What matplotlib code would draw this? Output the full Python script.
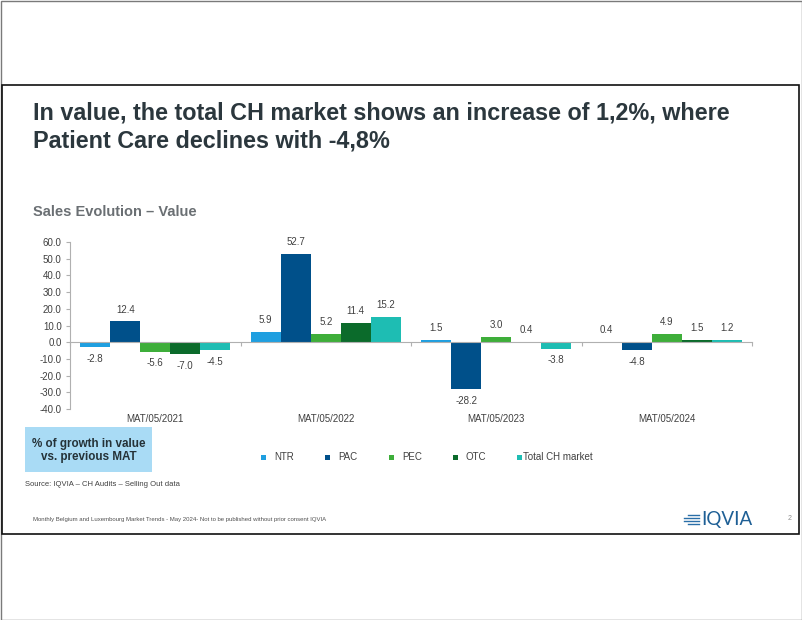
import matplotlib
matplotlib.use("Agg")
import matplotlib.pyplot as plt
import matplotlib.transforms as mtransforms
from matplotlib.patches import Rectangle
import numpy as np

plt.rcParams['font.family'] = ['Liberation Sans', 'DejaVu Sans']

categories = ["MAT/05/2021", "MAT/05/2022", "MAT/05/2023", "MAT/05/2024"]
series_names = ["NTR", "PAC", "PEC", "OTC", "Total CH market"]
ntr = [-2.8, 5.9, 1.5, 0.4]
pac = [12.4, 52.7, -28.2, -4.8]
pec = [-5.6, 5.2, 3.0, 4.9]
otc = [-7.0, 11.4, 0.4, 1.5]
total = [-4.5, 15.2, -3.8, 1.2]
yticks = [-40, -30, -20, -10, 0, 10, 20, 30, 40, 50, 60]

colors = ["#1f9fe0", "#00508a", "#3eae3a", "#0b6b2b", "#1ebdb3"]
series = [ntr, pac, pec, otc, total]

W, H = 802, 620
fig = plt.figure(figsize=(W / 100, H / 100), dpi=100)

def fx(x):
    return x / W

def fy(y):
    return 1 - y / H

# outer border & slide box
fig.patches.append(Rectangle((fx(0.5), fy(619.5)), fx(801), 619 / H, transform=fig.transFigure,
                             fill=False, edgecolor="#7a7a7a", linewidth=1.0))
fig.patches.append(Rectangle((fx(2), fy(534)), fx(797), (534 - 85) / H, transform=fig.transFigure,
                             fill=False, edgecolor="#111111", linewidth=1.2))

# title
fig.text(fx(33), fy(113), "In value, the total CH market shows an increase of 1,2%, where",
         fontsize=16.8, fontweight="bold", color="#2b373d", va="center", ha="left")
fig.text(fx(33), fy(141), "Patient Care declines with -4,8%",
         fontsize=16.8, fontweight="bold", color="#2b373d", va="center", ha="left")

fig.text(fx(33), fy(212), "Sales Evolution \u2013 Value", fontsize=10.5, fontweight="bold",
         color="#6a6f73", va="center", ha="left")

ax = fig.add_axes([fx(70), fy(409), (752 - 70) / W, (409 - 242) / H])
x = np.arange(len(categories))
bw = 0.176
for i, (vals, name, col) in enumerate(zip(series, series_names, colors)):
    pos = x + (i - 2) * bw
    ax.bar(pos, vals, width=bw, color=col, label=name, zorder=2)
    for p, v in zip(pos, vals):
        if v >= 0:
            ax.annotate(f"{v:.1f}", (p, v), xytext=(0, 5), textcoords="offset points",
                        ha="center", va="bottom", fontsize=7, color="#404040")
        else:
            ax.annotate(f"{v:.1f}", (p, v), xytext=(0, -5),
                        textcoords="offset points", ha="center", va="top", fontsize=7,
                        color="#404040")

ax.set_xlim(-0.5, len(categories) - 0.5)
ax.set_ylim(-40, 60)
ax.set_yticks(yticks)
ax.set_yticklabels([f"{t:.1f}" for t in yticks], fontsize=7, color="#404040")
ax.spines["top"].set_visible(False)
ax.spines["right"].set_visible(False)
ax.spines["left"].set_color("#b0b0b0")
ax.spines["bottom"].set_color("#b0b0b0")
ax.spines["bottom"].set_position(("data", 0))
ax.tick_params(axis="y", length=3, color="#b0b0b0", pad=3)
ax.set_xticks(np.arange(-0.5, len(categories), 1.0))
ax.set_xticklabels([])
ax.tick_params(axis="x", length=3, color="#b0b0b0", direction="out")
ax.set_facecolor("none")

trans = mtransforms.blended_transform_factory(ax.transData, fig.transFigure)
for xi, c in zip(x, categories):
    ax.text(xi, fy(419), c, transform=trans, ha="center", va="center", fontsize=7, color="#404040")

# legend (manual, fixed column spacing)
leg_x0, leg_step, leg_y = 263, 64, 457
for k, (name, col) in enumerate(zip(series_names, colors)):
    mx = leg_x0 + k * leg_step
    fig.patches.append(Rectangle((fx(mx - 2.5), fy(leg_y + 2.5)), fx(5), 5 / H,
                                 transform=fig.transFigure, facecolor=col, edgecolor="none"))
    tx = mx + (11 if k < len(series_names) - 1 else 4)
    fig.text(fx(tx), fy(leg_y), name, fontsize=7, color="#404040", ha="left", va="center")

# blue box
fig.patches.append(Rectangle((fx(25), fy(472)), fx(127), (472 - 427) / H, transform=fig.transFigure,
                             facecolor="#a9dbf5", edgecolor="none"))
fig.text(fx(89), fy(450.5), "% of growth in value\nvs. previous MAT", fontsize=8.4, fontweight="bold",
         color="#253238", ha="center", va="center", linespacing=1.1)

fig.text(fx(25), fy(484), "Source: IQVIA \u2013 CH Audits \u2013 Selling Out data", fontsize=5.5,
         color="#404040", ha="left", va="center")
fig.text(fx(33), fy(520), "Monthly Belgium and Luxembourg Market Trends - May 2024- Not to be published without prior consent IQVIA",
         fontsize=4.3, color="#505050", ha="left", va="center")

# logo
for k, (l, r) in enumerate([(688, 699), (684, 699), (684, 699), (688, 699)]):
    yy = fy(515 + k * 3.0)
    fig.lines.append(plt.Line2D([fx(l), fx(r)], [yy, yy], transform=fig.transFigure,
                                color="#2a6fa8", linewidth=1.0))
fig.text(fx(701), fy(519.5), "IQVIA", fontsize=13.5, color="#1e5f95", ha="left", va="center",
         family=["Lato", "DejaVu Sans"], fontweight="normal")
fig.text(fx(790), fy(519), "2", fontsize=5, color="#909090", ha="center", va="center")

fig.savefig("out.png", dpi=100, facecolor="white")
